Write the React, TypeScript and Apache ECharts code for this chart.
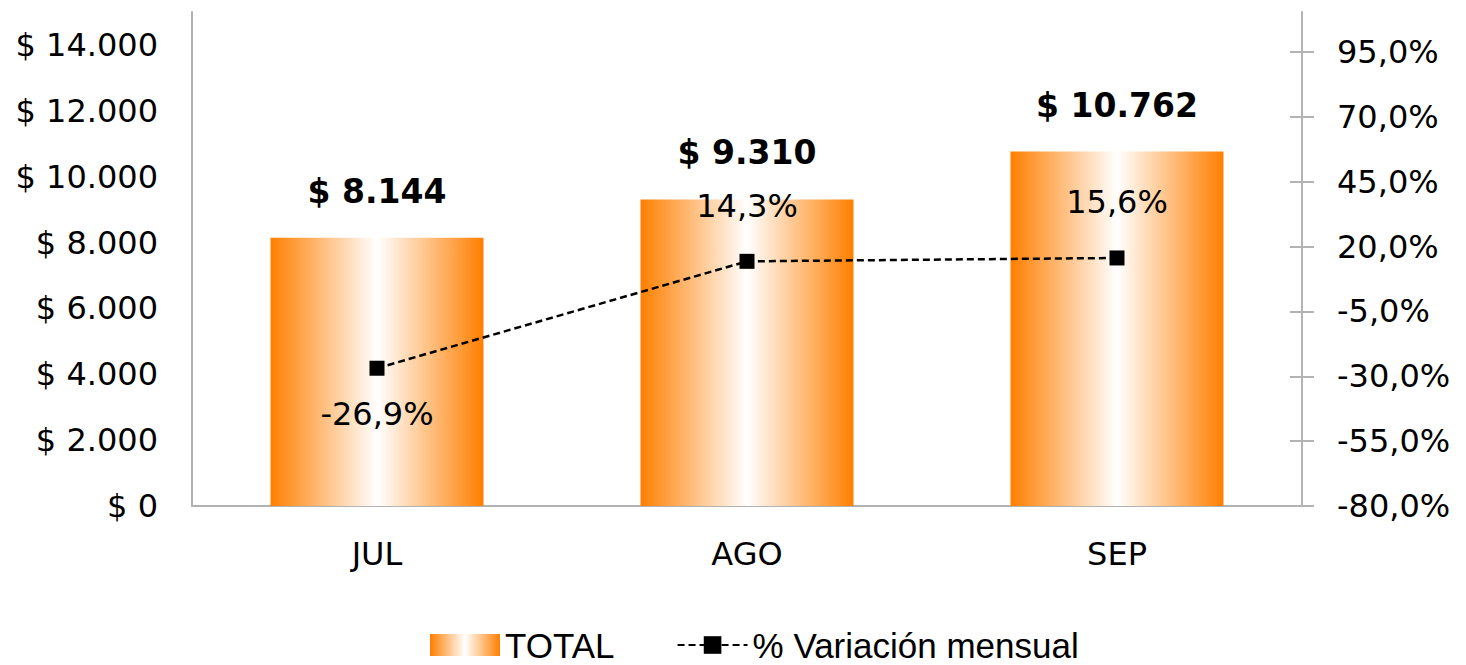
import React, { useEffect, useRef } from "react";
import * as echarts from "echarts";

const categories = ["JUL", "AGO", "SEP"];
const totals = [8144, 9310, 10762];
const variation = [-26.9, 14.3, 15.6];
const leftTicks = [0, 2000, 4000, 6000, 8000, 10000, 12000, 14000];
const rightTicks = [-80, -55, -30, -5, 20, 45, 70, 95];
const varLabelPos = ["bottom", "top", "top"];

const FONT = "DejaVu Sans";

const fmtMoney = (v: number) =>
  "$ " + Math.round(v).toString().replace(/\B(?=(\d{3})+(?!\d))/g, ".");
const fmtPct = (v: number) => v.toFixed(1).replace(".", ",") + "%";

export default function App() {
  const ref = useRef<HTMLDivElement>(null);
  useEffect(() => {
    if (!ref.current) return;
    const chart = echarts.init(ref.current, undefined, { renderer: "svg" });
    const barGrad = new echarts.graphic.LinearGradient(0, 0, 1, 0, [
      { offset: 0, color: "#FF7F00" },
      { offset: 0.5, color: "#FFFFFF" },
      { offset: 1, color: "#FF7F00" },
    ]);
    const rightAxisBase = {
      type: "value",
      position: "right",
      min: -80,
      max: 110.4,
      splitLine: { show: false },
    };
    chart.setOption({
      animation: false,
      backgroundColor: "#ffffff",
      grid: { left: 192, right: 164, top: 12, bottom: 159, containLabel: false },
      legend: {
        left: 425,
        top: 622,
        itemWidth: 70,
        itemHeight: 22,
        itemGap: 62,
        textStyle: {
          fontFamily: "Liberation Sans",
          fontSize: 35,
          lineHeight: 36,
          color: "#000",
        },
        data: [
          { name: "TOTAL", icon: "rect" },
          { name: "% Variación mensual" },
        ],
      },
      xAxis: {
        type: "category",
        data: categories,
        axisLine: { show: true, lineStyle: { color: "#b3b3b3", width: 2 } },
        axisTick: { show: false },
        axisLabel: { fontFamily: FONT, fontSize: 32, color: "#000", margin: 32 },
      },
      yAxis: [
        {
          type: "value",
          position: "left",
          min: 0,
          max: 15000,
          splitLine: { show: false },
          axisLine: { show: true, lineStyle: { color: "#b3b3b3", width: 2 } },
          axisTick: { show: false },
          axisLabel: {
            customValues: leftTicks,
            formatter: (v: number) => fmtMoney(v),
            fontFamily: FONT,
            fontSize: 32,
            color: "#000",
            margin: 34,
          },
        },
        {
          ...rightAxisBase,
          axisLine: { show: true, lineStyle: { color: "#b3b3b3", width: 2 } },
          axisTick: {
            show: true,
            customValues: rightTicks,
            length: 12,
            lineStyle: { color: "#b3b3b3", width: 2 },
          },
          axisLabel: {
            customValues: rightTicks,
            formatter: (v: number) => fmtPct(v),
            fontFamily: FONT,
            fontSize: 32,
            color: "#000",
            margin: 35,
          },
        },
        {
          ...rightAxisBase,
          axisLine: { show: false },
          axisTick: {
            show: true,
            inside: true,
            customValues: rightTicks,
            length: 12,
            lineStyle: { color: "#b3b3b3", width: 2 },
          },
          axisLabel: { show: false },
        },
      ],
      series: [
        {
          name: "TOTAL",
          type: "bar",
          yAxisIndex: 0,
          barWidth: 213,
          data: totals,
          itemStyle: { color: barGrad },
          label: {
            show: true,
            position: "top",
            distance: 30,
            formatter: (p: any) => fmtMoney(p.value),
            fontFamily: FONT,
            fontWeight: "bold",
            fontSize: 33,
            color: "#000",
          },
        },
        {
          name: "% Variación mensual",
          type: "line",
          yAxisIndex: 1,
          data: variation.map((v, i) => ({
            value: v,
            label: {
              position: varLabelPos[i],
              distance: varLabelPos[i] === "bottom" ? 22 : 32,
            },
          })),
          symbol: "rect",
          symbolSize: 15,
          itemStyle: { color: "#000" },
          lineStyle: { color: "#000", width: 2.5, type: [7, 4] },
          label: {
            show: true,
            formatter: (p: any) => fmtPct(p.value),
            fontFamily: FONT,
            fontSize: 32,
            color: "#000",
          },
          z: 5,
        },
      ],
    });
    return () => chart.dispose();
  }, []);
  return (
    <div
      ref={ref}
      style={{ position: "absolute", left: 0, top: 0, width: 1466, height: 665 }}
    />
  );
}
